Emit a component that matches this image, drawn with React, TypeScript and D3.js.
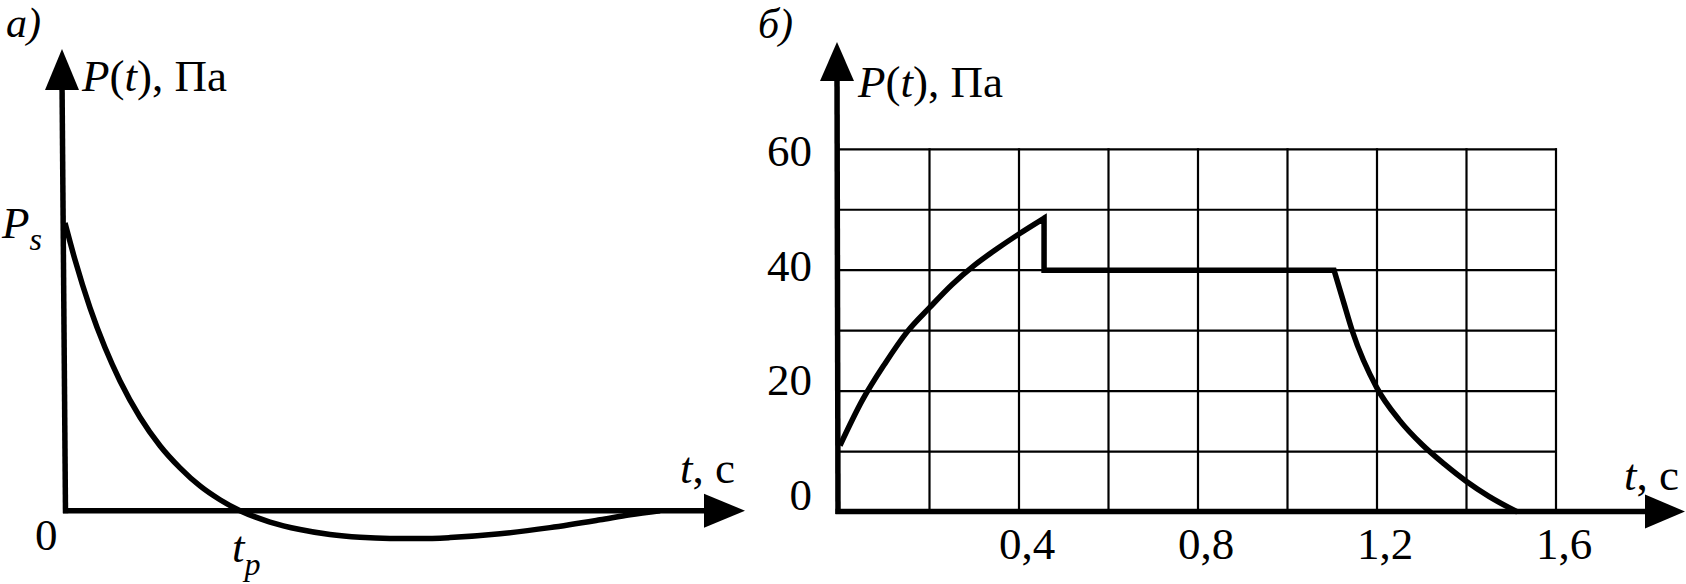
import React from 'react';
import * as d3 from 'd3';

// ---------- Panel a) data (schematic units: t 0..100, P_s = 100) ----------
const curveATime = [0, 1.47, 3.68, 5.88, 8.09, 11.03, 13.97, 16.91, 19.85, 22.79, 25.74, 30.15, 34.56, 38.97, 43.38, 47.79, 52.21, 56.62, 63.97, 71.32, 78.68, 83.09, 87.5];
const curveAPressure = [100, 87.2, 70.5, 56.7, 45.1, 32.5, 22.6, 14.9, 8.6, 3.8, 0, -3.93, -6.53, -8.27, -9.25, -9.66, -9.7, -9.35, -8.03, -5.88, -3.17, -1.43, 0];
const tpValue = 25.74;
const psValue = 100;

// ---------- Panel b) data ----------
const riseTime = [0, 0.05, 0.1, 0.15, 0.2, 0.25, 0.3, 0.35, 0.4, 0.456];
const risePressure = [11, 18.5, 24.5, 29.8, 33.8, 37.6, 40.8, 43.5, 46, 48.6];
const plateauTime = [0.456, 0.456, 1.104];
const plateauPressure = [48.6, 40, 40];
const fallTime = [1.104, 1.125, 1.145, 1.2, 1.25, 1.3, 1.35, 1.4, 1.45, 1.514];
const fallPressure = [40, 34.8, 29.9, 20.5, 15.2, 11.2, 7.95, 5.05, 2.6, 0];

const gridTimes = [0.2, 0.4, 0.6, 0.8, 1.0, 1.2, 1.4, 1.6];
const gridPressures = [10, 20, 30, 40, 50, 60];
const xTickValues = [0.4, 0.8, 1.2, 1.6];
const xTickLabels = ['0,4', '0,8', '1,2', '1,6'];
const yTickValues = [0, 20, 40, 60];
const yTickLabels = ['0', '20', '40', '60'];

const FONT = '"Liberation Serif", "Times New Roman", "DejaVu Serif", serif';
const FS = 45;
const txt = { fontFamily: FONT };

export default function App() {
  // Panel a scales
  const xA = d3.scaleLinear().domain([0, 100]).range([65, 745]);
  const yA = d3.scaleLinear().domain([0, psValue]).range([510.7, 223]);
  const pathA = d3
    .line<number>()
    .x((_, i) => xA(curveATime[i]))
    .y((_, i) => yA(curveAPressure[i]))
    .curve(d3.curveMonotoneX)(curveATime) as string;

  // Panel b scales
  const xB = d3.scaleLinear().domain([0, 1.6]).range([840, 1556]);
  const yB = d3.scaleLinear().domain([0, 60]).range([512, 149.3]);
  const yLabelPos = d3.scaleLinear().domain([0, 60]).range([510, 166]);

  const riseD = d3
    .line<number>()
    .x((_, i) => xB(riseTime[i]))
    .y((_, i) => yB(risePressure[i]))
    .curve(d3.curveMonotoneX)(riseTime) as string;
  const plateauD = d3
    .line<number>()
    .x((_, i) => xB(plateauTime[i]))
    .y((_, i) => yB(plateauPressure[i]))(plateauTime) as string;
  const fallD = d3
    .line<number>()
    .x((_, i) => xB(fallTime[i]))
    .y((_, i) => yB(fallPressure[i]))
    .curve(d3.curveMonotoneX)(fallTime) as string;
  const pathB = riseD + plateauD.replace(/^M/, 'L') + fallD.replace(/^M/, 'L');

  const axisB0x = 838;
  const axisA0y = yA(0);
  const axisB0y = yB(0) - 0.5;

  return (
    <svg
      width={1686}
      height={584}
      style={{ position: 'absolute', left: 0, top: 0, background: '#fff', fontFamily: FONT }}
    >
      <rect x={0} y={0} width={1686} height={584} fill="#fff" />

      {/* ================= Panel a ================= */}
      <text x={6} y={37} fontSize={42} fontStyle="italic" style={txt}>a)</text>
      {/* y axis */}
      <line x1={62} y1={80} x2={65.5} y2={axisA0y + 2.5} stroke="#000" strokeWidth={5.5} />
      <polygon points={`62,49 45,90 79,90`} fill="#000" />
      {/* x axis */}
      <line x1={63} y1={axisA0y} x2={712} y2={axisA0y} stroke="#000" strokeWidth={5.5} />
      <polygon points={`745,${axisA0y} 704,${axisA0y - 17} 704,${axisA0y + 17}`} fill="#000" />
      {/* curve */}
      <path d={pathA} fill="none" stroke="#000" strokeWidth={5.5} strokeLinejoin="round" />
      {/* labels */}
      <text x={82} y={91} fontSize={FS} style={txt}>
        <tspan fontStyle="italic">P</tspan>(<tspan fontStyle="italic">t</tspan>), Па
      </text>
      <text x={680} y={483} fontSize={FS} style={txt}>
        <tspan fontStyle="italic">t</tspan>, с
      </text>
      <text x={35} y={550} fontSize={FS} style={txt}>0</text>
      <text x={2} y={yA(psValue) + 15} fontSize={FS} fontStyle="italic" style={txt}>
        P<tspan fontSize={32} dy={12}>s</tspan>
      </text>
      <text x={xA(tpValue) - 8} y={562} fontSize={FS} fontStyle="italic" style={txt}>
        t<tspan fontSize={32} dy={13}>p</tspan>
      </text>

      {/* ================= Panel b ================= */}
      <text x={758} y={38} fontSize={42} fontStyle="italic" style={txt}>б)</text>
      {/* grid */}
      {gridTimes.map((t) => (
        <line key={'gx' + t} x1={xB(t)} y1={yB(60) - 1} x2={xB(t)} y2={yB(0)} stroke="#000" strokeWidth={2.2} />
      ))}
      {gridPressures.map((p) => (
        <line key={'gy' + p} x1={axisB0x} y1={yB(p)} x2={xB(1.6) + 1} y2={yB(p)} stroke="#000" strokeWidth={2.2} />
      ))}
      {/* axes */}
      <line x1={axisB0x - 1} y1={72} x2={axisB0x} y2={axisB0y + 2.5} stroke="#000" strokeWidth={5.5} />
      <polygon points={`${axisB0x - 1},42 ${axisB0x - 18},81 ${axisB0x + 16},81`} fill="#000" />
      <line x1={axisB0x - 2.5} y1={axisB0y} x2={1652} y2={axisB0y} stroke="#000" strokeWidth={5.5} />
      <polygon points={`1685,${axisB0y} 1645,${axisB0y - 17} 1645,${axisB0y + 17}`} fill="#000" />
      {/* data curve */}
      <path d={pathB} fill="none" stroke="#000" strokeWidth={5.5} strokeLinejoin="miter" />
      {/* tick labels */}
      {xTickValues.map((t, i) => (
        <text key={'xt' + t} x={xB(t) + 8} y={559} fontSize={FS} textAnchor="middle" style={txt}>
          {xTickLabels[i]}
        </text>
      ))}
      {yTickValues.map((p, i) => (
        <text key={'yt' + p} x={812} y={yLabelPos(p)} fontSize={FS} textAnchor="end" style={txt}>
          {yTickLabels[i]}
        </text>
      ))}
      <text x={858} y={97} fontSize={FS} style={txt}>
        <tspan fontStyle="italic">P</tspan>(<tspan fontStyle="italic">t</tspan>), Па
      </text>
      <text x={1624} y={490} fontSize={FS} style={txt}>
        <tspan fontStyle="italic">t</tspan>, с
      </text>
    </svg>
  );
}
